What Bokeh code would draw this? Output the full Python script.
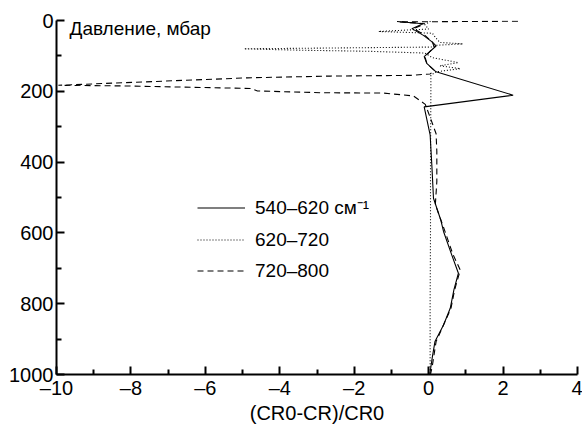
from bokeh.plotting import figure
from bokeh.models import Range1d, FixedTicker, Legend, LegendItem, Label
from bokeh.embed import file_html
from bokeh.resources import INLINE

# ---- data ----
p_540 = [3, 9, 23, 42, 61, 72, 102, 121, 145, 211, 244, 323, 417, 502, 565, 596, 662, 714, 760, 813, 860, 907, 950, 1000]
x_540 = [-0.85, -0.15, -0.45, -0.14, 0.1, 0.2, -0.12, -0.05, 0.2, 2.27, -0.12, 0.04, 0.09, 0.13, 0.33, 0.4, 0.62, 0.8, 0.68, 0.58, 0.4, 0.17, 0.1, 0.03]

p_620 = [2, 12, 24, 31, 36, 50, 62, 66, 70, 75, 80, 84, 87, 92, 105, 119, 128, 136, 145, 155, 200, 400, 600, 800, 1000]
x_620 = [0.05, -0.1, 0.0, -1.35, 0.1, 0.2, 0.3, 0.92, 0.2, 0.1, -4.96, -3.4, -1.6, -0.1, 0.1, 0.8, 0.3, 0.85, 0.2, 0.06, 0.06, 0.05, 0.05, 0.04, 0.04]

p_720 = [2, 4, 9, 23, 42, 61, 75, 102, 121, 141, 151, 155, 157, 162, 183, 185, 192, 199, 204, 205, 213, 237, 276, 320, 370, 455, 520, 590, 660, 705, 760, 813, 907, 975, 1000]
x_720 = [2.4, -0.8, -0.1, -0.4, -0.1, 0.1, 0.15, -0.1, -0.05, 0.15, 0.04, -0.5, -2.64, -4.87, -9.95, -8.1, -4.79, -4.6, -2.9, -1.22, -0.41, -0.09, 0.05, 0.2, 0.22, 0.22, 0.18, 0.42, 0.65, 0.85, 0.7, 0.6, 0.2, 0.1, 0.05]

series_labels = ["540–620 см⁻¹", "620–720", "720–800"]

x_ticks = [-10, -8, -6, -4, -2, 0, 2, 4]
x_tick_labels = ["–10", "–8", "–6", "–4", "–2", "0", "2", "4"]
x_minor = [-9, -7, -5, -3, -1, 1, 3]
y_ticks = [0, 200, 400, 600, 800, 1000]
y_minor = [100, 300, 500, 700, 900]

x_title = "(CR0-CR)/CR0"
y_title = "Давление, мбар"

FONT = "Liberation Sans"

p = figure(width=582, height=430, output_backend="svg", toolbar_location=None,
           x_range=Range1d(-10, 4), y_range=Range1d(1000, 0),
           min_border_left=56, min_border_right=5, min_border_top=20, min_border_bottom=56)
p.outline_line_color = None
p.xgrid.visible = False
p.ygrid.visible = False
p.background_fill_color = "white"

r1 = p.line(x_540, p_540, line_color="black", line_width=1.1)
r2 = p.line(x_620, p_620, line_color="black", line_width=1.1, line_dash="1 2")
r3 = p.line(x_720, p_720, line_color="black", line_width=1.1, line_dash="6 4")

for ax in (p.xaxis[0], p.yaxis[0]):
    ax.axis_line_width = 2
    ax.major_tick_line_width = 2
    ax.minor_tick_line_width = 2
    ax.major_tick_in = 8
    ax.major_tick_out = 0
    ax.minor_tick_in = 5
    ax.minor_tick_out = 0
    ax.major_label_text_font = FONT
    ax.major_label_text_font_size = "20px"
    ax.major_label_text_color = "black"
    ax.axis_line_color = "black"
    ax.major_tick_line_color = "black"
    ax.minor_tick_line_color = "black"

p.xaxis.ticker = FixedTicker(ticks=x_ticks, minor_ticks=x_minor)
p.xaxis.major_label_overrides = {t: l for t, l in zip(x_ticks, x_tick_labels)}
p.xaxis.major_label_standoff = 2
p.xaxis.axis_label = x_title
p.xaxis.axis_label_text_font = FONT
p.xaxis.axis_label_text_font_size = "20px"
p.xaxis.axis_label_text_font_style = "normal"
p.xaxis.axis_label_text_color = "black"
p.xaxis.axis_label_standoff = 0

p.yaxis.ticker = FixedTicker(ticks=y_ticks, minor_ticks=y_minor)
p.yaxis.major_label_standoff = 3

p.add_layout(Label(x=-9.65, y=24, text=y_title, text_font=FONT, text_font_size="19px",
                   text_baseline="alphabetic", text_color="black"))

legend = Legend(items=[LegendItem(label=series_labels[0], renderers=[r1]),
                       LegendItem(label=series_labels[1], renderers=[r2]),
                       LegendItem(label=series_labels[2], renderers=[r3])],
                location=(141, 92), padding=0, margin=0, spacing=8,
                glyph_width=48, glyph_height=23, label_height=23, label_standoff=10,
                label_text_font=FONT, label_text_font_size="19px", label_text_color="black",
                border_line_color=None, background_fill_alpha=0)
p.add_layout(legend)

open("out.html", "w").write(file_html(p, INLINE))
